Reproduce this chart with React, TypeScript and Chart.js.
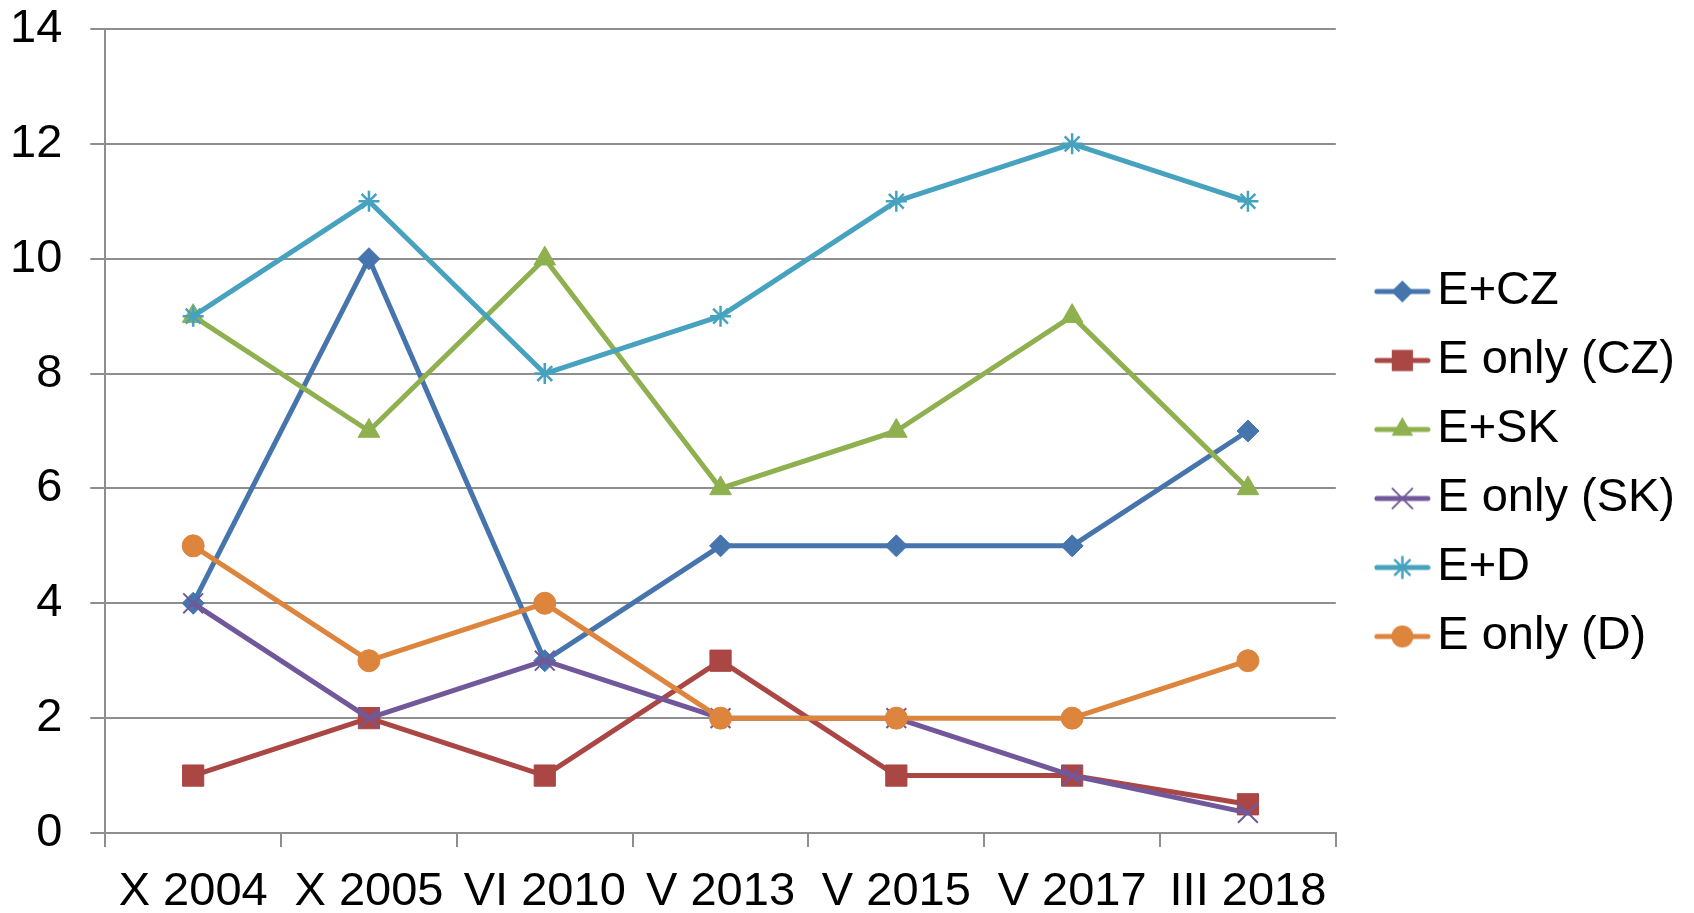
import React, { useEffect, useRef } from 'react';
import { Chart, registerables } from 'chart.js';

Chart.register(...registerables);

const categories = ['X 2004', 'X 2005', 'VI 2010', 'V 2013', 'V 2015', 'V 2017', 'III 2018'];
const ePlusCZ = [4, 10, 3, 5, 5, 5, 7];
const eOnlyCZ = [1, 2, 1, 3, 1, 1, 0.5];
const ePlusSK = [9, 7, 10, 6, 7, 9, 6];
const eOnlySK = [4, 2, 3, 2, 2, 1, 0.35];
const ePlusD = [9, 11, 8, 9, 11, 12, 11];
const eOnlyD = [5, 3, 4, 2, 2, 2, 3];
const yTicks = [0, 2, 4, 6, 8, 10, 12, 14];

const seriesNames = ['E+CZ', 'E only (CZ)', 'E+SK', 'E only (SK)', 'E+D', 'E only (D)'];
const seriesValues = [ePlusCZ, eOnlyCZ, ePlusSK, eOnlySK, ePlusD, eOnlyD];
const seriesColors = ['#4674AD', '#AA4644', '#8EB04F', '#71589A', '#46A2BE', '#DD843D'];
const seriesMarkers = ['rectRot', 'rect', 'triangle', 'crossRot', 'star', 'circle'];
const markerRadius = [11, 15, 12.5, 14, 10.5, 11];
const markerBorder = [1, 1, 1, 2, 2.5, 1];

const FONT = "'Liberation Sans', Arial, sans-serif";

function drawMarker(ctx: CanvasRenderingContext2D, style: string, x: number, y: number, r: number, color: string, bw: number) {
  ctx.save();
  ctx.fillStyle = color;
  ctx.strokeStyle = color;
  ctx.lineWidth = bw;
  ctx.beginPath();
  if (style === 'rectRot') {
    ctx.moveTo(x - r, y);
    ctx.lineTo(x, y - r);
    ctx.lineTo(x + r, y);
    ctx.lineTo(x, y + r);
    ctx.closePath();
    ctx.fill();
  } else if (style === 'rect') {
    const s = r * Math.SQRT1_2;
    ctx.rect(x - s, y - s, 2 * s, 2 * s);
    ctx.fill();
  } else if (style === 'triangle') {
    for (let k = 0; k < 3; k++) {
      const a = (k * 2 * Math.PI) / 3;
      const px = x + Math.sin(a) * r;
      const py = y - Math.cos(a) * r;
      if (k === 0) ctx.moveTo(px, py);
      else ctx.lineTo(px, py);
    }
    ctx.closePath();
    ctx.fill();
  } else if (style === 'crossRot') {
    const o = r * Math.SQRT1_2;
    ctx.moveTo(x - o, y - o);
    ctx.lineTo(x + o, y + o);
    ctx.moveTo(x - o, y + o);
    ctx.lineTo(x + o, y - o);
    ctx.stroke();
  } else if (style === 'star') {
    const o = r * Math.SQRT1_2;
    ctx.moveTo(x, y - r);
    ctx.lineTo(x, y + r);
    ctx.moveTo(x - r, y);
    ctx.lineTo(x + r, y);
    ctx.moveTo(x - o, y - o);
    ctx.lineTo(x + o, y + o);
    ctx.moveTo(x - o, y + o);
    ctx.lineTo(x + o, y - o);
    ctx.stroke();
  } else {
    ctx.arc(x, y, r, 0, Math.PI * 2);
    ctx.fill();
  }
  ctx.restore();
}

function makeLegendIcon(i: number): HTMLCanvasElement {
  const c = document.createElement('canvas');
  c.width = 96;
  c.height = 32;
  const ctx = c.getContext('2d')!;
  ctx.strokeStyle = seriesColors[i];
  ctx.lineWidth = 5;
  ctx.lineCap = 'round';
  ctx.beginPath();
  ctx.moveTo(39, 16);
  ctx.lineTo(90, 16);
  ctx.stroke();
  drawMarker(ctx, seriesMarkers[i], 64.5, 16, markerRadius[i], seriesColors[i], markerBorder[i]);
  return c;
}

export default function App() {
  const ref = useRef<HTMLCanvasElement>(null);

  useEffect(() => {
    const canvas = ref.current;
    if (!canvas) return;
    const icons = seriesNames.map((_, i) => makeLegendIcon(i));
    const datasets = seriesNames.map((name, i) => ({
      label: name,
      data: seriesValues[i],
      borderColor: seriesColors[i],
      backgroundColor: seriesColors[i],
      pointBackgroundColor: seriesColors[i],
      pointBorderColor: seriesColors[i],
      pointStyle: seriesMarkers[i] as any,
      pointRadius: markerRadius[i],
      pointHoverRadius: markerRadius[i],
      pointBorderWidth: markerBorder[i],
      borderWidth: 5,
      borderCapStyle: 'round' as const,
      borderJoinStyle: 'round' as const,
      tension: 0,
      fill: false,
      order: seriesNames.length - i,
    }));

    const chart = new Chart(canvas, {
      type: 'line',
      data: { labels: categories, datasets },
      options: {
        animation: false,
        responsive: true,
        maintainAspectRatio: false,
        layout: { padding: { left: 10, right: 9, top: 0, bottom: 0 } },
        plugins: {
          tooltip: { enabled: false },
          legend: {
            position: 'right',
            align: 'center',
            title: {
              display: true,
              text: ' ',
              font: { family: FONT, size: 1, lineHeight: 1 },
              padding: { top: 7, bottom: 7 },
            },
            labels: {
              usePointStyle: true,
              pointStyleWidth: 56,
              padding: 22,
              color: '#000',
              font: { family: FONT, size: 47 },
              generateLabels: () =>
                seriesNames.map((name, i) => ({
                  text: name,
                  fillStyle: seriesColors[i],
                  strokeStyle: seriesColors[i],
                  lineWidth: 0,
                  pointStyle: icons[i] as any,
                  hidden: false,
                  datasetIndex: i,
                  fontColor: '#000',
                })),
            },
          },
        },
        scales: {
          x: {
            type: 'category',
            offset: true,
            afterFit: (s: any) => {
              s.paddingLeft = 0;
              s.paddingRight = 0;
              s.height = s.height - 25;
            },
            grid: {
              offset: true,
              display: true,
              drawOnChartArea: false,
              drawTicks: true,
              tickLength: 14,
              color: '#8E8E8E',
              lineWidth: 2,
            },
            border: { display: true, color: '#8E8E8E', width: 2 },
            ticks: {
              color: '#000',
              padding: 22,
              maxRotation: 0,
              autoSkip: false,
              font: { family: FONT, size: 47, lineHeight: 1 },
            },
          },
          y: {
            min: 0,
            max: 14,
            afterBuildTicks: (scale: any) => {
              scale.ticks = yTicks.map((v) => ({ value: v }));
            },
            afterFit: (s: any) => {
              s.paddingTop = 29;
              s.paddingBottom = 0;
              s.width = s.width - 28;
            },
            grid: {
              display: true,
              drawOnChartArea: true,
              drawTicks: true,
              tickLength: 15,
              color: '#8E8E8E',
              lineWidth: 2,
            },
            border: { display: true, color: '#8E8E8E', width: 2 },
            ticks: {
              color: '#000',
              padding: 28,
              font: { family: FONT, size: 47, lineHeight: 1.2 },
            },
          },
        },
      },
    });
    return () => chart.destroy();
  }, []);

  return (
    <div style={{ position: 'fixed', left: 0, top: 0, width: '1694px', height: '913px', background: '#fff' }}>
      <canvas ref={ref} />
    </div>
  );
}
